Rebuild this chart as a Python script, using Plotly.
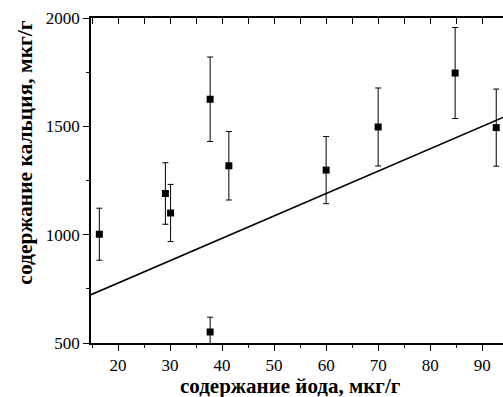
import plotly.graph_objects as go

# Data
iodine = [16.4, 29.1, 30.1, 37.7, 41.3, 37.7, 60.0, 70.0, 84.8, 92.7]
calcium = [1002, 1190, 1100, 1625, 1318, 551, 1298, 1497, 1746, 1494]
err = [120, 142, 132, 195, 158, 68, 155, 180, 210, 178]

fit_intercept = 570.0
fit_slope = 10.33

x_range = [14.8, 94.0]
y_range = [500, 2000]

x_title = "содержание йода, мкг/г"
y_title = "содержание кальция, мкг/г"

fit_x = x_range
fit_y = [fit_intercept + fit_slope * v for v in fit_x]

font_family = "'Liberation Serif', 'Times New Roman', Times, serif"

fig = go.Figure()
fig.add_trace(go.Scatter(
    x=fit_x, y=fit_y, mode="lines",
    line=dict(color="black", width=1.6), showlegend=False, hoverinfo="skip",
))
fig.add_trace(go.Scatter(
    x=iodine, y=calcium, mode="markers",
    marker=dict(symbol="square", size=7, color="black"),
    error_y=dict(type="data", array=err, visible=True, color="black",
                 thickness=1, width=3),
    showlegend=False,
))
# invisible trace to activate top axis
fig.add_trace(go.Scatter(x=x_range, y=y_range, xaxis="x2", mode="markers",
                         marker=dict(opacity=0), showlegend=False, hoverinfo="skip"))

fig.update_layout(
    width=503, height=397,
    margin=dict(l=91, r=0, t=18, b=54),
    paper_bgcolor="white", plot_bgcolor="white",
    font=dict(family=font_family, size=17, color="black"),
    xaxis=dict(
        range=x_range, showgrid=False, zeroline=False,
        showline=True, linecolor="black", linewidth=1.5,
        ticks="outside", ticklen=6, tickwidth=1.3, tickcolor="black",
        tick0=0, dtick=10,
        minor=dict(dtick=5, tick0=0, ticks="outside", ticklen=3, tickwidth=1.3, tickcolor="black"),
        tickfont=dict(family=font_family, size=17),
    ),
    xaxis2=dict(
        range=x_range, overlaying="x", side="top", showgrid=False, zeroline=False,
        showline=True, linecolor="black", linewidth=1.5,
        ticks="inside", ticklen=6, tickwidth=1.3, tickcolor="black",
        tick0=0, dtick=5, showticklabels=False,
    ),
    yaxis=dict(
        range=y_range, showgrid=False, zeroline=False,
        showline=True, linecolor="black", linewidth=1.5,
        ticks="outside", ticklen=6, tickwidth=1.3, tickcolor="black",
        tick0=0, dtick=500,
        minor=dict(dtick=250, tick0=0, ticks="outside", ticklen=3, tickwidth=1.3, tickcolor="black"),
        tickfont=dict(family=font_family, size=17),
    ),
    annotations=[
        dict(text="<b>" + x_title + "</b>", xref="paper", yref="paper",
             x=0.484, y=0, yshift=-57, xanchor="center", yanchor="bottom",
             showarrow=False, font=dict(family=font_family, size=21)),
        dict(text="<b>" + y_title + "</b>", xref="paper", yref="paper",
             x=0, xshift=-66, y=0.998, yanchor="top", xanchor="center", textangle=-90,
             showarrow=False, font=dict(family=font_family, size=21.5)),
    ],
)

fig.write_html("out.html", config={"displayModeBar": False},
               post_script="document.body.style.margin='0';document.body.style.overflow='hidden';")
